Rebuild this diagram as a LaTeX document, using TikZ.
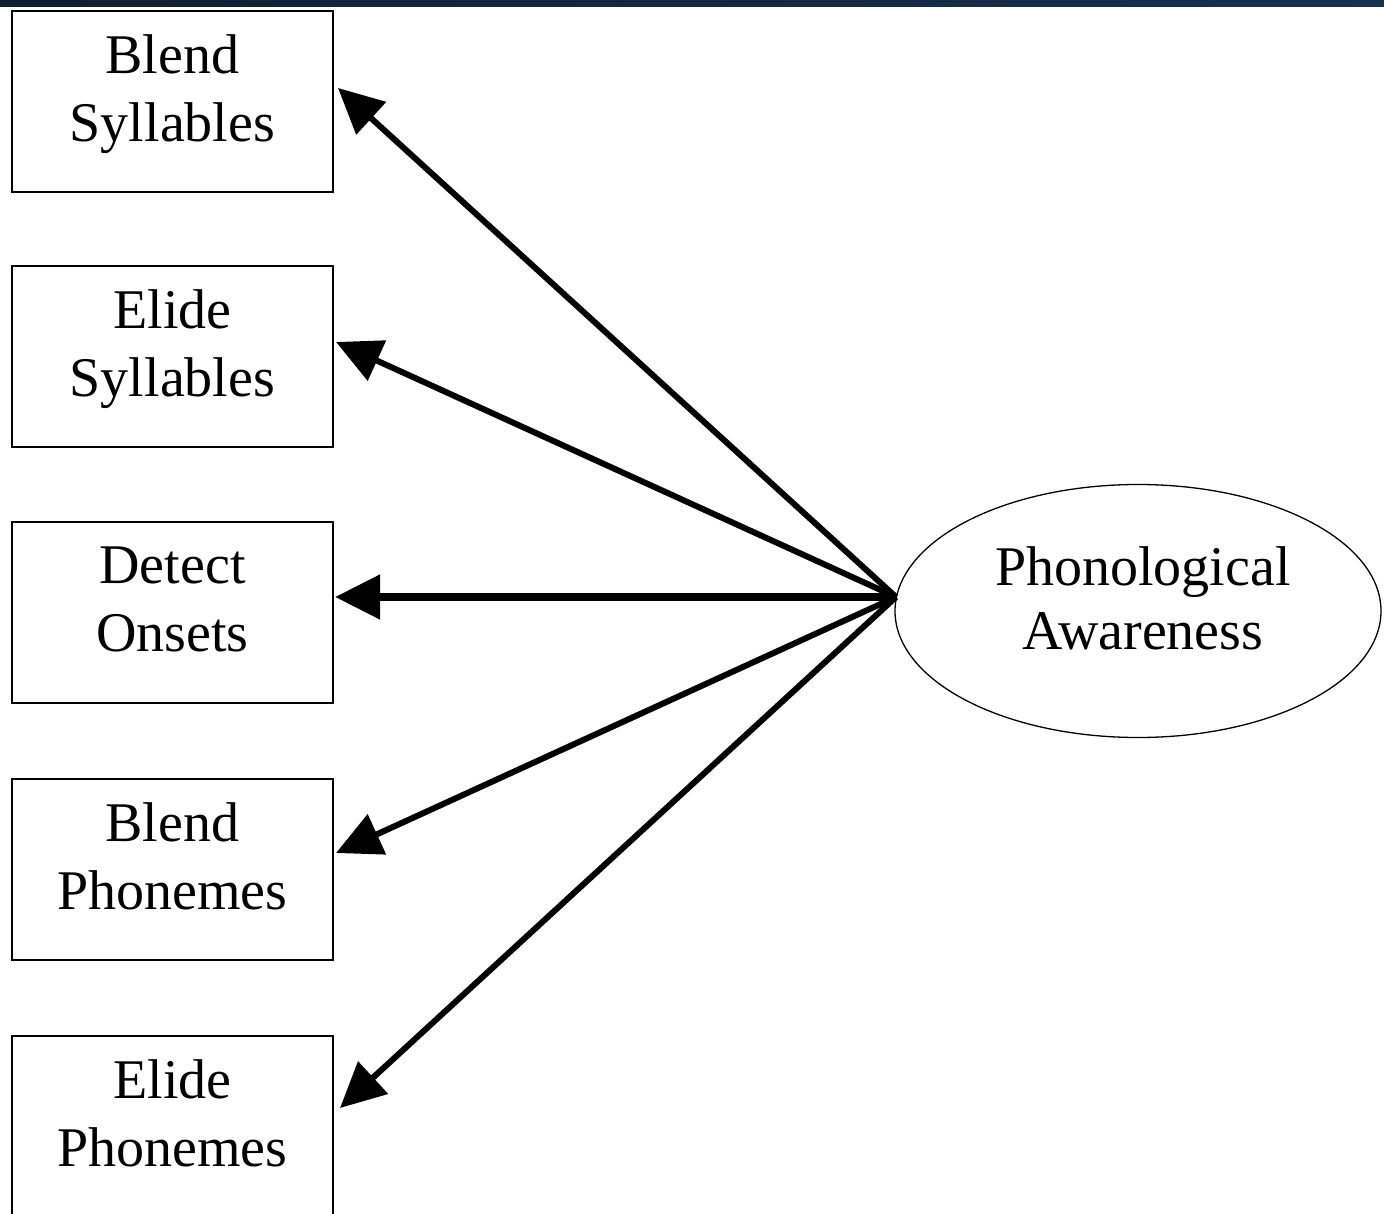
\documentclass[tikz,border=0pt]{standalone}
\usepackage{fontspec}
\setmainfont{Liberation Serif}
\usetikzlibrary{arrows.meta,shapes.geometric}
\definecolor{bandL}{HTML}{0E1E33}
\definecolor{bandR}{HTML}{16324F}
\begin{document}
\begin{tikzpicture}[x=1pt,y=-1pt,
  measure/.style={draw=black,line width=2.6pt,minimum width=321pt,minimum height=181pt,
    inner sep=0pt,align=center,text depth=26pt,font=\fontsize{56}{68}\selectfont},
  latent/.style={draw=black,line width=1.3pt,ellipse,minimum width=486pt,minimum height=253pt,inner sep=0pt},
  caption/.style={align=center,font=\fontsize{56}{64}\selectfont,inner sep=0pt},
  load/.style={line width=6pt,-{Triangle[length=45pt,width=43pt]}}]
\clip (0,0) rectangle (1384,1214);
\fill[white] (0,0) rectangle (1384,1214);
\shade[left color=bandL,right color=bandR] (0,0) rectangle (1384,7);

% indicators
\node[measure] (bs) at (172.5,101.5) {Blend\\Syllables};
\node[measure] (es) at (172.5,356.5) {Elide\\Syllables};
\node[measure] (do) at (172.5,612.5) {Detect\\Onsets};
\node[measure] (bp) at (172.5,869.5) {Blend\\Phonemes};
\node[measure] (ep) at (172.5,1126.5) {Elide\\Phonemes};

% latent factor
\node[latent] (pa) at (1138,611) {};
\node[caption] (pat) at (1143,598) {Phonological\\Awareness};

% arrow origin and tips
\coordinate (hub) at (896,597);
\coordinate (t1) at (338,88);
\coordinate (t2) at (336,342);
\coordinate (t3) at (335,597);
\coordinate (t4) at (336,853);
\coordinate (t5) at (340,1108);

\draw[load] (hub) -- (t1);
\draw[load] (hub) -- (t2);
\draw[load,line width=8pt] (hub) -- (t3);
\draw[load] (hub) -- (t4);
\draw[load] (hub) -- (t5);
\end{tikzpicture}
\end{document}
